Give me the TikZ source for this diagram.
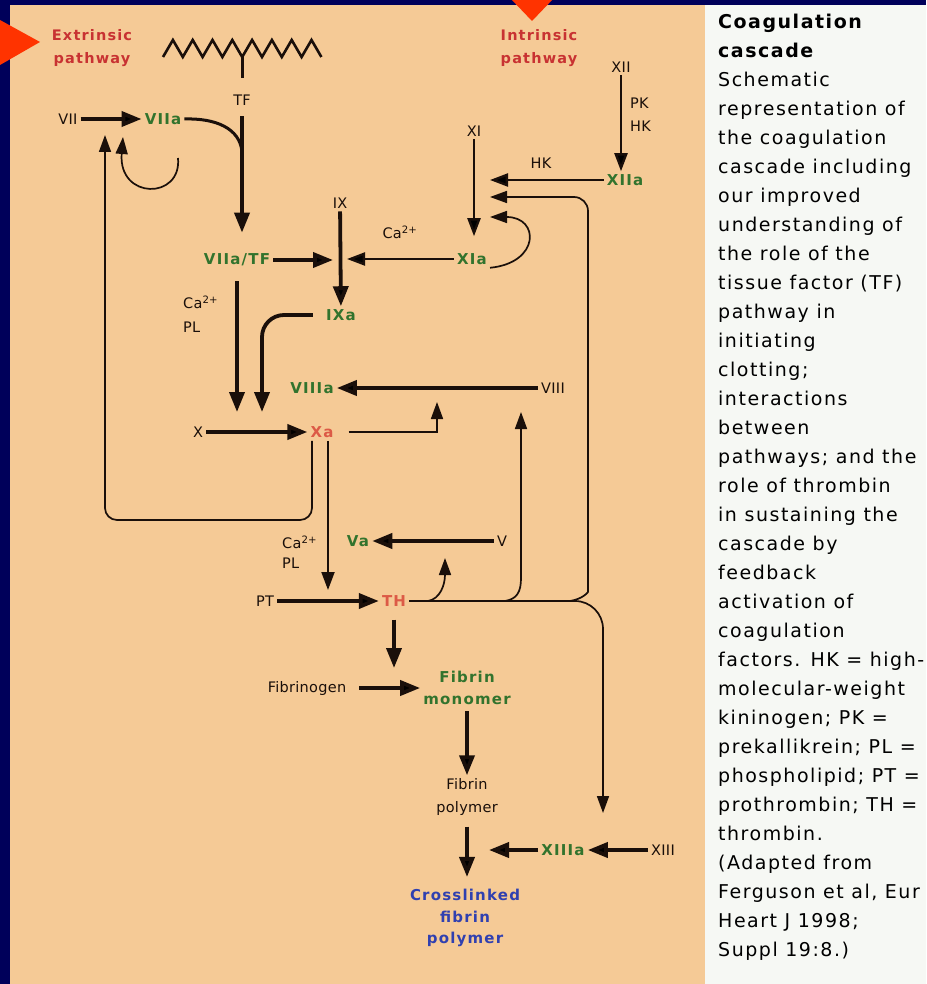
\documentclass[tikz,border=0pt]{standalone}
\usepackage{fontspec}
\setmainfont{DejaVu Sans}
\newfontfamily\lblfont[LetterSpace=2]{DejaVu Sans}
\newfontfamily\facfont[LetterSpace=8]{DejaVu Sans}
\newfontfamily\capfont[LetterSpace=8]{DejaVu Sans}
\usetikzlibrary{arrows.meta}

\definecolor{bgnavy}{RGB}{0,0,90}
\definecolor{peach}{RGB}{245,202,150}
\definecolor{panel}{RGB}{246,248,244}
\definecolor{pointred}{RGB}{255,51,0}
\definecolor{pathred}{RGB}{200,50,50}
\definecolor{facgreen}{RGB}{50,115,45}
\definecolor{actred}{RGB}{220,90,70}
\definecolor{endblue}{RGB}{48,64,176}
\definecolor{ink}{RGB}{26,15,10}

\begin{document}
\begin{tikzpicture}[x=1pt, y=-1pt,
    lbl/.style={font=\lblfont\fontsize{14.5}{16}\selectfont, text=ink, inner sep=3pt},
    fac/.style={font=\facfont\bfseries\fontsize{15}{22}\selectfont, text=facgreen, inner sep=3pt, align=center},
    act/.style={fac, text=actred},
    pathlbl/.style={fac, text=pathred, font=\facfont\bfseries\fontsize{14.5}{23}\selectfont},
    bigarrow/.style={draw=ink, line width=3.8pt, -{Triangle[length=20pt,width=15pt]}},
    midarrow/.style={draw=ink, line width=2.3pt, -{Triangle[length=18pt,width=13pt]}},
    fbarrow/.style={draw=ink, line width=1.7pt, -{Triangle[length=17pt,width=12pt]}}
]

    \useasboundingbox (0,0) rectangle (926,984);
    \fill[bgnavy] (0,0) rectangle (926,984);
    \fill[peach] (10,5) rectangle (705,984);
    \fill[panel] (705,5) rectangle (926,984);

    % pointers
    \fill[pointred] (0,20) -- (40,42) -- (0,65) -- cycle;
    \fill[pointred] (510,-2) -- (554,-2) -- (532,21) -- cycle;

    \node[pathlbl] (ExtPath) at (92,48) {Extrinsic\\pathway};
    \node[pathlbl] (IntPath) at (539,48) {Intrinsic\\pathway};

    % membrane with tissue factor
    \draw[ink, line width=2.6pt, line join=miter] (163,57)
        foreach \i in {1,...,8} { -- ++(9.9,-17) -- ++(9.9,17) };
    \coordinate (Stem) at (242.2,57);
    \draw[ink, line width=2.6pt] (Stem) -- ++(0,21);

    \node[lbl] (TF) at (242,100) {TF};
    \node[lbl] (VII) at (68,119) {VII};
    \node[fac] (VIIa) at (163,119) {VIIa};

    \node[lbl] (IX) at (340,203) {IX};
    \node[lbl] (CaIX) at (400,232) {Ca\textsuperscript{2+}};
    \node[fac] (VIIaTF) at (237,260) {VIIa/TF};

    \node[lbl] (XI) at (474,131) {XI};
    \node[fac] (XIa) at (472,259) {XIa};
    \node[lbl] (XII) at (621,67) {XII};
    \node[lbl, anchor=west] (PK) at (627,103) {PK};
    \node[lbl, anchor=west] (HKa) at (627,126) {HK};
    \node[fac] (XIIa) at (625,180) {XIIa};
    \node[lbl] (HKb) at (541,163) {HK};

    \node[lbl, anchor=west] (CaX) at (180,302) {Ca\textsuperscript{2+}};
    \node[lbl, anchor=west] (PLX) at (180,327) {PL};
    \node[fac] (IXa) at (341,315) {IXa};

    \node[fac] (VIIIa) at (312,388) {VIIIa};
    \node[lbl] (VIII) at (553,388) {VIII};
    \node[lbl] (X) at (198,432) {X};
    \node[act] (Xa) at (322,432) {Xa};

    \node[lbl, anchor=west] (CaTH) at (279,542) {Ca\textsuperscript{2+}};
    \node[lbl, anchor=west] (PLTH) at (279,563) {PL};
    \node[fac] (Va) at (358,541) {Va};
    \node[lbl] (V) at (502,541) {V};
    \node[lbl] (PT) at (265,601) {PT};
    \node[act] (TH) at (394,601) {TH};

    \node[lbl] (Fbgn) at (307,688) {Fibrinogen};
    \node[fac] (FibMono) at (467,688) {Fibrin\\monomer};
    \node[lbl, align=center, font=\lblfont\fontsize{14.5}{23}\selectfont] (FibPoly) at (467,797) {Fibrin\\polymer};
    \node[fac] (XIIIa) at (563,850) {XIIIa};
    \node[lbl] (XIII) at (663,850) {XIII};
    \node[fac, text=endblue, font=\facfont\bfseries\fontsize{15}{21.5}\selectfont] (Cross) at (465,918) {Crosslinked\\fibrin\\polymer};

    % free ends of the connectors
    \coordinate (TFjoin) at (242,152);
    \coordinate (VIIaIn) at (123,137);
    \coordinate (VIIaLoop) at (178,158);
    \coordinate (VIIin) at (105,135);
    \coordinate (FbCorner) at (105,520);
    \coordinate (XIhk) at (490,180);
    \coordinate (XIfb) at (490,197);
    \coordinate (XIloop) at (490,217);
    \coordinate (XaIn1) at (237,412);
    \coordinate (XaIn2) at (262,412);
    \coordinate (VIIIfbA) at (437,402);
    \coordinate (VIIIfbB) at (521,412);
    \coordinate (THin) at (328,590);
    \coordinate (VaFb) at (445,558);
    \coordinate (THbr1) at (428,601);
    \coordinate (THbr2) at (505,601);
    \coordinate (THbr3) at (570,601);
    \coordinate (XIIIin) at (603,813);
    \coordinate (FMin) at (394,668);

    % extrinsic
    \path [bigarrow] (VII) edge (VIIa);
    \draw[ink, line width=3pt] (VIIa.east) .. controls (215,118) and (240,128) .. (TFjoin);
    \draw[bigarrow, shorten <=8pt, shorten >=18pt] (TF.south) -- (TF.south |- VIIaTF.north);
    \draw[fbarrow] (VIIaLoop) .. controls (182,200) and (118,200) .. (VIIaIn);
    \path [bigarrow, shorten >=7pt] (VIIaTF) edge (IX |- VIIaTF);
    \path [bigarrow] (IX) edge (IXa);

    % intrinsic
    \path [midarrow] (XII) edge (XII |- XIIa.north);
    \path [midarrow, shorten >=16pt] (XIIa) edge (XI |- XIIa);
    \path [midarrow, shorten >=14pt] (XI) edge (XI |- XIa.north);
    \draw[fbarrow] (XIa.south east) .. controls (540,263) and (540,217) .. (XIloop);
    \path [midarrow, shorten >=7pt] (XIa) edge (IX |- XIa);

    % X activation
    \draw[bigarrow, shorten <=12pt] (VIIaTF) -- (XaIn1);
    \draw[bigarrow, rounded corners=22pt] ([xshift=-10pt]IXa.west) -| (XaIn2);
    \path [bigarrow] (VIII) edge (VIIIa);
    \path [bigarrow] (X) edge (Xa);
    \draw[fbarrow, shorten <=12pt] (Xa.east) -| (VIIIfbA);
    \draw[fbarrow, rounded corners=12pt] ([xshift=-10pt]Xa.south) |- (FbCorner) -- (VIIin);

    % thrombin
    \draw[midarrow, line width=2pt] ([xshift=6pt]Xa.south) -- (THin);
    \path [bigarrow] (V) edge (Va);
    \path [bigarrow] (PT) edge (TH);
    \draw[fbarrow, rounded corners=28pt] (TH.east) -| (XIIIin);
    \draw[fbarrow] (THbr1) .. controls (440,599) and (445,585) .. (VaFb);
    \draw[fbarrow] (THbr2) .. controls (517,599) and (521,592) .. (521,578) -- (VIIIfbB);
    \draw[fbarrow, rounded corners=14pt] (THbr3) .. controls (583,599) and (588,592) .. (588,578) -- (588,197) -- (XIfb);

    % fibrin
    \draw[bigarrow, shorten <=10pt] (TH) -- (FMin);
    \path [bigarrow, shorten <=10pt] (Fbgn) edge (FibMono);
    \path [bigarrow, shorten <=3pt] (FibMono) edge (FibPoly);
    \path [bigarrow, shorten <=8pt, shorten >=9pt] (FibPoly) edge (FibPoly |- Cross.north);
    \path [bigarrow] (XIII) edge (XIIIa);
    \path [bigarrow, shorten >=22pt] (XIIIa) edge (FibPoly |- XIIIa);

    \node[anchor=north west, align=left, inner sep=0pt, text=black,
          font=\capfont\fontsize{19}{29}\selectfont] (Caption) at (718,14) {
        \textbf{Coagulation}\\
        \textbf{cascade}\\
        Schematic\\
        representation of\\
        the coagulation\\
        cascade including\\
        our improved\\
        understanding of\\
        the role of the\\
        tissue factor (TF)\\
        pathway in\\
        initiating\\
        clotting;\\
        interactions\\
        between\\
        pathways; and the\\
        role of thrombin\\
        in sustaining the\\
        cascade by\\
        feedback\\
        activation of\\
        coagulation\\
        factors. HK = high-\\
        molecular-weight\\
        kininogen; PK =\\
        prekallikrein; PL =\\
        phospholipid; PT =\\
        prothrombin; TH =\\
        thrombin.\\
        (Adapted from\\
        Ferguson et al, Eur\\
        Heart J 1998;\\
        Suppl 19:8.)
    };

\end{tikzpicture}
\end{document}
